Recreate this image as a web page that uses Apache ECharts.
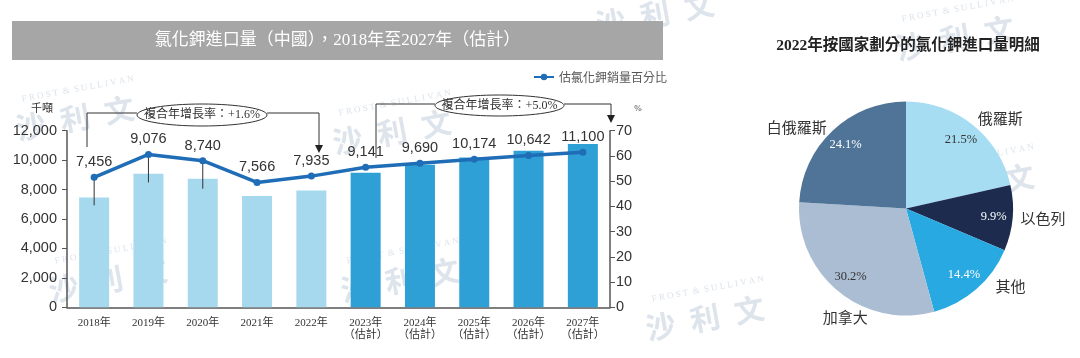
<!DOCTYPE html>
<html><head><meta charset="utf-8">
<script src="https://cdn.jsdelivr.net/npm/echarts@6/dist/echarts.min.js"></script>
<style>html,body{margin:0;padding:0;background:#fff}#c{width:1080px;height:358px}</style>
</head><body><div id="c"></div>
<script>
// ---- data ----
const years = ['2018年','2019年','2020年','2021年','2022年','2023年','2024年','2025年','2026年','2027年'];
const isForecast = [false,false,false,false,false,true,true,true,true,true];
const importVolume = [7456,9076,8740,7566,7935,9141,9690,10174,10642,11100];
const salesShare = [51.5,60.6,58.1,49.5,52.0,55.5,57.1,58.7,60.2,61.5];
const dropLineYears = [0,1,2];
const leftAxisTicks = [0,2000,4000,6000,8000,10000,12000];
const rightAxisTicks = [0,10,20,30,40,50,60,70];
const cagrLabels = ['複合年增長率：+1.6%','複合年增長率：+5.0%'];
const pieNames = ['俄羅斯','以色列','其他','加拿大','白俄羅斯'];
const pieValues = [21.5,9.9,14.4,30.2,24.1];

const mainTitle = '氯化鉀進口量（中國），2018年至2027年（估計）';
const pieTitle = '2022年按國家劃分的氯化鉀進口量明細';
const lineName = '估氯化鉀銷量百分比';
const watermarkText = '沙\u2002利\u2002文';
const watermarkSub = 'F R O S T  &  S U L L I V A N';

// ---- styles ----
const SERIF = "'Liberation Serif','Noto Sans CJK TC',serif";
const SANS = "'Liberation Sans',Arial,sans-serif";
const CJK = "'Noto Sans CJK TC',sans-serif";
const pieColors = ['#A6DDF3','#1C2B4E','#29A9E1','#AABDD3','#507497'];
const pieTextColors = ['#333','#fff','#fff','#333','#fff'];
const nameLabelLine = [[8,0],[8,0],[-3,21],[33,-50],[4,3]];
const watermarkSpots = [[75,118],[108,280],[392,132],[400,280],[705,318],[655,14],[975,186],[955,38]];

const fmt = v => String(v).replace(/\B(?=(\d{3})+(?!\d))/g, ',');

const chart = echarts.init(document.getElementById('c'), null, {renderer:'canvas'});

const watermarks = [];
watermarkSpots.forEach(p => {
  watermarks.push({
    type: 'group', x: p[0], y: p[1], rotation: 0.18, z: -10, silent: true,
    children: [
      {type: 'text', x: 0, y: 0, style: {text: watermarkText, fill: '#DDE4EB', font: "bold 30px 'Noto Sans CJK SC',sans-serif", align: 'center', verticalAlign: 'middle'}},
      {type: 'text', x: 8, y: -28, style: {text: watermarkSub, fill: '#DDE4EB', font: "9px " + SERIF, align: 'center', verticalAlign: 'middle'}}
    ]
  });
});

const option = {
  animation: false,
  backgroundColor: '#fff',
  title: {
    text: pieTitle, left: 903, top: 33, textAlign: 'center',
    textStyle: {fontFamily: SERIF, fontSize: 15.5, fontWeight: 'bold', color: '#222'}
  },
  legend: {
    data: [lineName], left: 528, top: 66, itemWidth: 20, itemHeight: 8, itemGap: 8,
    textStyle: {fontFamily: CJK, fontSize: 12, color: '#555'}
  },
  grid: {left: 67, right: 470, top: 130.7, bottom: 50.7, containLabel: false},
  xAxis: {
    type: 'category', data: years,
    axisLine: {lineStyle: {color: '#555', width: 1.5}},
    axisTick: {show: false},
    axisLabel: {
      margin: 10, interval: 0, color: '#333', fontFamily: SERIF, fontSize: 11, lineHeight: 12,
      formatter: (v, i) => isForecast[i] ? v + '\n（估計）' : v
    }
  },
  yAxis: [{
    type: 'value', min: leftAxisTicks[0], max: leftAxisTicks[leftAxisTicks.length-1],
    interval: leftAxisTicks[1]-leftAxisTicks[0],
    name: '千噸', nameLocation: 'end', nameGap: 16,
    nameTextStyle: {fontFamily: SERIF, fontSize: 11, color: '#333', padding: [0, 50, 0, 0]},
    axisLine: {show: true, lineStyle: {color: '#555', width: 1.5}},
    axisTick: {show: true, length: 5, lineStyle: {color: '#555'}},
    splitLine: {show: false},
    axisLabel: {margin: 10, color: '#333', fontFamily: SANS, fontSize: 14.5, formatter: v => fmt(v)}
  }, {
    type: 'value', position: 'right', min: rightAxisTicks[0], max: rightAxisTicks[rightAxisTicks.length-1],
    interval: rightAxisTicks[1]-rightAxisTicks[0],
    name: '%', nameLocation: 'end', nameGap: 18,
    nameTextStyle: {fontFamily: SERIF, fontSize: 9, color: '#444', padding: [0, 0, 0, 56]},
    axisLine: {show: true, lineStyle: {color: '#555', width: 1.5}},
    axisTick: {show: true, length: 5, lineStyle: {color: '#555'}},
    splitLine: {show: false},
    axisLabel: {margin: 6, color: '#333', fontFamily: SANS, fontSize: 14.5}
  }],
  series: [{
    type: 'bar', name: '進口量', yAxisIndex: 0, barWidth: 30, z: 1,
    data: importVolume.map((v, i) => ({value: v, itemStyle: {color: isForecast[i] ? '#2FA0D5' : '#A6D9EE'}}))
  }, {
    type: 'custom', name: 'drop', yAxisIndex: 1, z: 2, silent: true,
    data: dropLineYears.map(i => [i, salesShare[i]]),
    renderItem: (p, api) => {
      const pt = api.coord([api.value(0), api.value(1)]);
      return {type: 'line', shape: {x1: pt[0], y1: pt[1], x2: pt[0], y2: pt[1] + 28},
              style: {stroke: '#333', lineWidth: 1}};
    }
  }, {
    type: 'line', name: lineName, yAxisIndex: 1, z: 3,
    data: salesShare,
    symbol: 'circle', symbolSize: 7,
    lineStyle: {color: '#1F6DB6', width: 3.5},
    itemStyle: {color: '#1F6DB6'},
    label: {
      show: true, position: 'top', distance: 4,
      fontFamily: SANS, fontSize: 14.5, color: '#333',
      formatter: p => fmt(importVolume[p.dataIndex])
    }
  }, {
    type: 'pie', name: 'pie', center: [906, 208.5], radius: [0, 107],
    startAngle: 90, clockwise: true, avoidLabelOverlap: false,
    itemStyle: {borderColor: '#fff', borderWidth: 0},
    data: pieNames.map((n, i) => ({
      name: n, value: pieValues[i], itemStyle: {color: pieColors[i]},
      labelLine: {show: false, length: nameLabelLine[i][0], length2: nameLabelLine[i][1]}
    })),
    label: {show: true, position: 'outside', distanceToLabelLine: 0,
            formatter: '{b}', fontFamily: CJK, fontSize: 15, color: '#333'},
    labelLine: {show: false}
  }, {
    type: 'pie', name: 'pieLabels', center: [906, 208.5], radius: [63, 107],
    startAngle: 90, clockwise: true, avoidLabelOverlap: false, silent: true, z: 5,
    itemStyle: {color: 'rgba(0,0,0,0)'},
    data: pieNames.map((n, i) => ({
      name: n, value: pieValues[i],
      label: {color: pieTextColors[i]}
    })),
    label: {show: true, position: 'inside', fontFamily: SERIF, fontSize: 12.5,
            formatter: p => p.value.toFixed(1) + '%'},
    labelLine: {show: false}
  }],
  graphic: watermarks.concat([
    {type: 'rect', shape: {x: 12, y: 21, width: 651, height: 39}, style: {fill: '#A6A6A6'}, z: 0},
    {type: 'text', x: 337.5, y: 40.5, style: {text: mainTitle, fill: '#fff', font: "17px " + SERIF, align: 'center', verticalAlign: 'middle'}},
    // CAGR 1
    {type: 'polyline', shape: {points: [[87, 147], [87, 113], [137, 113]]}, style: {stroke: '#333', lineWidth: 1, fill: null}},
    {type: 'polyline', shape: {points: [[267, 113], [319, 113], [319, 146]]}, style: {stroke: '#333', lineWidth: 1, fill: null}},
    {type: 'polygon', shape: {points: [[315, 145], [323, 145], [319, 153]]}, style: {fill: '#222'}},
    {type: 'ellipse', shape: {cx: 202, cy: 115, rx: 65, ry: 11}, style: {fill: '#fff', stroke: '#333', lineWidth: 1}},
    {type: 'text', x: 202, y: 115, style: {text: cagrLabels[0], fill: '#333', font: "12px " + SERIF, align: 'center', verticalAlign: 'middle'}},
    // CAGR 2
    {type: 'polyline', shape: {points: [[376, 158], [376, 104], [435, 104]]}, style: {stroke: '#333', lineWidth: 1, fill: null}},
    {type: 'polyline', shape: {points: [[564, 104], [611, 104], [611, 116]]}, style: {stroke: '#333', lineWidth: 1, fill: null}},
    {type: 'polygon', shape: {points: [[607, 115], [615, 115], [611, 123]]}, style: {fill: '#222'}},
    {type: 'ellipse', shape: {cx: 499.5, cy: 105.5, rx: 64.5, ry: 10.5}, style: {fill: '#fff', stroke: '#333', lineWidth: 1}},
    {type: 'text', x: 499.5, y: 105.5, style: {text: cagrLabels[1], fill: '#333', font: "12px " + SERIF, align: 'center', verticalAlign: 'middle'}}
  ])
};
chart.setOption(option);
</script></body></html>
